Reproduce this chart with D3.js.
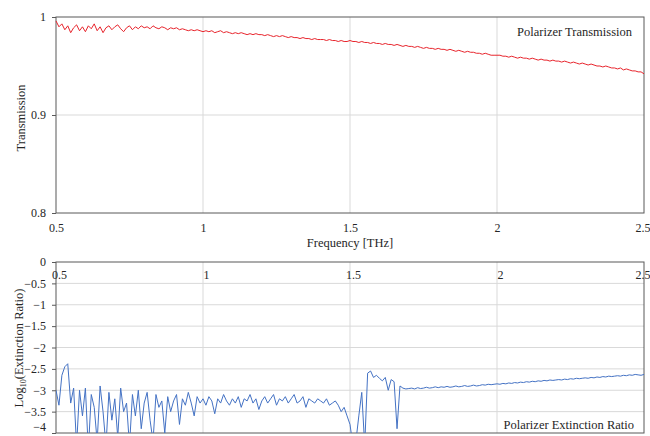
<!DOCTYPE html>
<html>
<head>
<meta charset="utf-8">
<script src="https://cdn.jsdelivr.net/npm/d3@7"></script>
<style>
  html, body { margin: 0; padding: 0; background: #fff; }
  svg { display: block; }
  svg text { font-family: "Liberation Serif", "Times New Roman", serif !important; }
</style>
</head>
<body>
<svg id="chart" width="650" height="436"></svg>
<script>
// Frequency grid (THz), 0.01 THz spacing from 0.5 to 2.5
const freqStart = 0.5;
const freqStep = 0.01;

// Polarizer transmission (linear)
const transmission = [
  0.996, 0.990, 0.993, 0.987, 0.991, 0.984, 0.989, 0.992, 0.986, 0.990,
  0.985, 0.991, 0.988, 0.993, 0.986, 0.990, 0.984, 0.989, 0.991, 0.987,
  0.990, 0.992, 0.988, 0.985, 0.989, 0.991, 0.987, 0.990, 0.988, 0.991,
  0.989, 0.990, 0.988, 0.991, 0.989, 0.988, 0.990, 0.989, 0.987, 0.989,
  0.988, 0.989, 0.987, 0.988, 0.987, 0.986, 0.987, 0.986, 0.987, 0.986,
  0.985, 0.986, 0.985, 0.986, 0.984, 0.985, 0.986, 0.984, 0.985, 0.984,
  0.983, 0.984, 0.983, 0.984, 0.983, 0.982, 0.983, 0.982, 0.983, 0.982,
  0.982, 0.981, 0.982, 0.981, 0.980, 0.981, 0.980, 0.981, 0.980, 0.979,
  0.980, 0.979, 0.979, 0.978, 0.979, 0.978, 0.978, 0.977, 0.978, 0.977,
  0.977, 0.977, 0.976, 0.977, 0.976, 0.976, 0.975, 0.976, 0.975, 0.975,
  0.976, 0.975, 0.975, 0.974, 0.975, 0.974, 0.974, 0.973, 0.974, 0.973,
  0.973, 0.972, 0.973, 0.972, 0.972, 0.971, 0.972, 0.971, 0.970, 0.971,
  0.970, 0.970, 0.969, 0.970, 0.969, 0.968, 0.969, 0.968, 0.968, 0.967,
  0.968, 0.967, 0.967, 0.966, 0.967, 0.966, 0.965, 0.966, 0.965, 0.964,
  0.965, 0.964, 0.964, 0.963, 0.963, 0.962, 0.963, 0.962, 0.961, 0.961,
  0.961, 0.961, 0.960, 0.960, 0.959, 0.960, 0.959, 0.958, 0.959, 0.958,
  0.958, 0.957, 0.958, 0.957, 0.956, 0.957, 0.956, 0.956, 0.955, 0.956,
  0.955, 0.955, 0.954, 0.955, 0.954, 0.953, 0.954, 0.953, 0.952, 0.953,
  0.952, 0.951, 0.952, 0.951, 0.950, 0.950, 0.949, 0.950, 0.949, 0.948,
  0.948, 0.947, 0.948, 0.946, 0.947, 0.946, 0.945, 0.945, 0.944, 0.944,
  0.942
];

// log10 of the polarizer extinction ratio
const extinction = [
  -3.00, -3.35, -2.65, -2.45, -2.38, -3.30, -2.95, -4.30, -3.00, -3.60,
  -2.95, -4.40, -3.10, -3.40, -4.20, -2.90, -3.50, -4.30, -3.05, -3.70,
  -3.20, -4.10, -2.95, -3.50, -3.30, -4.30, -3.10, -3.60, -3.00, -3.90,
  -3.30, -3.05, -3.70, -4.20, -3.10, -3.40, -3.25, -4.00, -3.15, -3.50,
  -3.25, -3.10, -3.80, -3.20, -3.35, -3.05, -3.30, -3.60, -3.15, -3.30,
  -3.20, -3.35, -3.15, -3.25, -3.55, -3.20, -3.30, -3.10, -3.25, -3.35,
  -3.20, -3.30, -3.15, -3.40, -3.20, -3.25, -3.10, -3.30, -3.20, -3.45,
  -3.25, -3.15, -3.30, -3.20, -3.10, -3.35, -3.20, -3.25, -3.15, -3.30,
  -3.20, -3.10, -3.30, -3.25, -3.15, -3.40, -3.20, -3.25, -3.30, -3.20,
  -3.25, -3.30, -3.20, -3.35, -3.30, -3.25, -3.35, -3.50, -3.40, -3.60,
  -3.80, -4.30, -4.20, -3.60, -3.05, -4.30, -2.60, -2.55, -2.70, -2.65,
  -2.72, -2.78, -2.70, -3.00, -2.75, -2.80, -3.90, -2.90, -2.95, -2.97,
  -2.96, -2.95, -2.97, -2.94, -2.96, -2.95, -2.93, -2.95, -2.94, -2.92,
  -2.94, -2.92, -2.93, -2.91, -2.93, -2.92, -2.90, -2.92, -2.91, -2.89,
  -2.91, -2.90, -2.88, -2.90, -2.89, -2.87, -2.88, -2.86, -2.87, -2.86,
  -2.85, -2.86, -2.84, -2.85, -2.83, -2.84, -2.82, -2.83, -2.81, -2.82,
  -2.80, -2.81, -2.79, -2.80, -2.78, -2.79, -2.77, -2.78, -2.76, -2.77,
  -2.76, -2.75, -2.76, -2.74, -2.75, -2.73, -2.74, -2.72, -2.73, -2.72,
  -2.71, -2.72, -2.70, -2.71, -2.69, -2.70, -2.68, -2.69, -2.67, -2.68,
  -2.67, -2.66, -2.67, -2.65, -2.66, -2.64, -2.65, -2.63, -2.64, -2.65,
  -2.63
];

const xTicks = [0.5, 1, 1.5, 2, 2.5];
const transTicks = [0.8, 0.9, 1];
const extTicks = [0, -0.5, -1, -1.5, -2, -2.5, -3, -3.5, -4];

const frameColor = "#595959";
const gridColor = "#d9d9d9";
const textColor = "#262626";

const svg = d3.select("#chart");

const x = d3.scaleLinear().domain([0.5, 2.5]).range([56, 644]);
const yTop = d3.scaleLinear().domain([0.8, 1]).range([213, 17]);
const yBot = d3.scaleLinear().domain([-4, 0]).range([433, 262]);

const freqOf = i => freqStart + i * freqStep;

// ---------- Upper panel: transmission ----------
const upper = svg.append("g");

upper.append("g")
  .selectAll("line")
  .data(xTicks.filter(t => t > 0.5 && t < 2.5))
  .join("line")
  .attr("x1", d => x(d)).attr("x2", d => x(d))
  .attr("y1", yTop(0.8)).attr("y2", yTop(1))
  .attr("stroke", gridColor).attr("stroke-width", 1);

upper.append("g")
  .selectAll("line")
  .data(transTicks.filter(t => t > 0.8 && t < 1))
  .join("line")
  .attr("x1", x(0.5)).attr("x2", x(2.5))
  .attr("y1", d => yTop(d)).attr("y2", d => yTop(d))
  .attr("stroke", gridColor).attr("stroke-width", 1);

upper.append("rect")
  .attr("x", x(0.5)).attr("y", yTop(1))
  .attr("width", x(2.5) - x(0.5)).attr("height", yTop(0.8) - yTop(1))
  .attr("fill", "none").attr("stroke", frameColor).attr("stroke-width", 1);

const axTopY = upper.append("g")
  .attr("transform", `translate(${x(0.5)},0)`)
  .call(d3.axisLeft(yTop).tickValues(transTicks).tickFormat(d3.format("~g")).tickSize(4).tickPadding(6));
const axTopX = upper.append("g")
  .attr("transform", `translate(0,${yTop(0.8)})`)
  .call(d3.axisBottom(x).tickValues(xTicks).tickFormat(d3.format("~g")).tickSize(0).tickPadding(10));

upper.append("path")
  .datum(transmission)
  .attr("fill", "none")
  .attr("stroke", "#e8242c")
  .attr("stroke-width", 1)
  .attr("d", d3.line().x((d, i) => x(freqOf(i))).y(d => yTop(d)));

upper.append("text")
  .attr("x", 350).attr("y", 247)
  .attr("text-anchor", "middle")
  .attr("font-size", 12.5).attr("fill", textColor)
  .text("Frequency [THz]");

upper.append("text")
  .attr("transform", "translate(25,118) rotate(-90)")
  .attr("text-anchor", "middle")
  .attr("font-size", 12.5).attr("fill", textColor)
  .text("Transmission");

upper.append("text")
  .attr("x", 632).attr("y", 36)
  .attr("text-anchor", "end")
  .attr("font-size", 12.5).attr("fill", textColor)
  .text("Polarizer Transmission");

// ---------- Lower panel: extinction ratio ----------
const lower = svg.append("g");

lower.append("g")
  .selectAll("line")
  .data(extTicks.filter(t => t < 0 && t > -4))
  .join("line")
  .attr("x1", x(0.5)).attr("x2", x(2.5))
  .attr("y1", d => yBot(d)).attr("y2", d => yBot(d))
  .attr("stroke", gridColor).attr("stroke-width", 1);

lower.append("g")
  .selectAll("line")
  .data(xTicks.filter(t => t > 0.5 && t < 2.5))
  .join("line")
  .attr("x1", d => x(d)).attr("x2", d => x(d))
  .attr("y1", yBot(0)).attr("y2", yBot(-4))
  .attr("stroke", gridColor).attr("stroke-width", 1);

lower.append("rect")
  .attr("x", x(0.5)).attr("y", yBot(0))
  .attr("width", x(2.5) - x(0.5)).attr("height", yBot(-4) - yBot(0))
  .attr("fill", "none").attr("stroke", frameColor).attr("stroke-width", 1);

const axBotY = lower.append("g")
  .attr("transform", `translate(${x(0.5)},0)`)
  .call(d3.axisLeft(yBot).tickValues(extTicks).tickFormat(d3.format("~g")).tickSize(4).tickPadding(6));
const axBotX = lower.append("g")
  .attr("transform", `translate(0,${yBot(0)})`)
  .call(d3.axisBottom(x).tickValues(xTicks).tickFormat(d3.format("~g")).tickSize(0).tickPadding(8));
axBotX.selectAll("text").attr("dx", 3);

svg.append("defs").append("clipPath").attr("id", "botClip")
  .append("rect")
  .attr("x", x(0.5)).attr("y", yBot(0))
  .attr("width", x(2.5) - x(0.5)).attr("height", yBot(-4) - yBot(0));

lower.append("path")
  .datum(extinction)
  .attr("clip-path", "url(#botClip)")
  .attr("fill", "none")
  .attr("stroke", "#4472c4")
  .attr("stroke-width", 1)
  .attr("d", d3.line().x((d, i) => x(freqOf(i))).y(d => yBot(d)));

const yLab = lower.append("text")
  .attr("transform", "translate(23,348) rotate(-90)")
  .attr("text-anchor", "middle")
  .attr("font-size", 12.5).attr("fill", textColor);
yLab.append("tspan").text("Log");
yLab.append("tspan").attr("font-size", 8).attr("dy", 3).text("10");
yLab.append("tspan").attr("dy", -3).text("(Extinction Ratio)");

lower.append("text")
  .attr("x", 634).attr("y", 429)
  .attr("text-anchor", "end")
  .attr("font-size", 12.5).attr("fill", textColor)
  .text("Polarizer Extinction Ratio");

// Shared axis styling
[axTopY, axTopX, axBotY, axBotX].forEach(g => {
  g.select(".domain").remove();
  g.selectAll("text").attr("font-size", 12).attr("fill", textColor);
  g.selectAll("line").attr("stroke", frameColor);
});

// Keep the edge labels inside the canvas
[axTopX, axBotX].forEach(g => {
  g.selectAll(".tick").filter(d => d === 2.5).select("text").attr("text-anchor", "end").attr("dx", 6);
});
axBotY.selectAll(".tick").filter(d => d === -4).select("text").attr("dy", "-0.2em");
</script>
</body>
</html>
